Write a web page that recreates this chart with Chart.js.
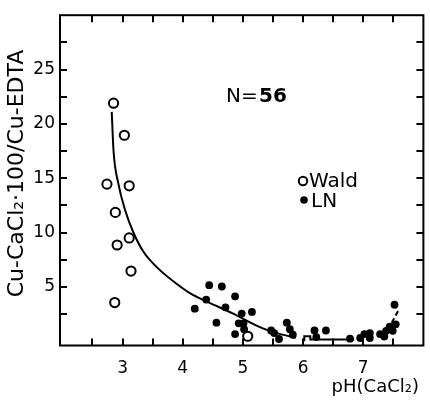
<!DOCTYPE html>
<html>
<head>
<meta charset="utf-8">
<script src="https://cdn.jsdelivr.net/npm/chart.js@4.4.1/dist/chart.umd.min.js"></script>
<style>
  html, body { margin: 0; padding: 0; background: #fff; }
  #wrap { width: 430px; height: 403px; position: relative; }
</style>
</head>
<body>
<div id="wrap"><canvas id="c" width="430" height="403"></canvas></div>
<script>
// ---- data ----
const waldX = [2.85, 3.03, 2.74, 3.11, 2.88, 2.91, 3.11, 3.14, 2.87, 5.08];
const waldY = [21.9, 18.95, 14.45, 14.3, 11.85, 8.85, 9.5, 6.45, 3.55, 0.45];

const lnX = [4.20, 4.39, 4.44, 4.65, 4.71, 4.56, 4.87, 4.98, 5.15, 4.93, 5.01, 4.87, 5.02,
             5.47, 5.52, 5.60, 5.73, 5.78, 5.83, 6.19, 6.22, 6.38,
             6.78, 6.95, 7.02, 7.11, 7.11, 7.28, 7.35, 7.38, 7.44, 7.49, 7.54, 7.52];
const lnY = [2.99, 3.83, 5.15, 5.03, 3.11, 1.70, 4.13, 2.54, 2.69, 1.64, 1.64, 0.65, 1.10,
             0.98, 0.74, 0.20, 1.70, 1.10, 0.59, 0.98, 0.38, 0.98,
             0.23, 0.29, 0.65, 0.74, 0.29, 0.65, 0.43, 0.95, 1.33, 0.95, 1.55, 3.35];

const fitX = [2.82, 2.85, 2.93, 3.04, 3.18, 3.35, 3.59, 3.87, 4.14, 4.42, 4.83, 5.32, 5.57, 5.88];
const fitY = [21.1, 17.5, 14.5, 12.1, 10.0, 8.2, 6.7, 5.4, 4.35, 3.6, 2.55, 1.2, 0.74, 0.30];

const flatX = [6.02, 6.02, 6.12, 6.12, 6.85];
const flatY = [0.0, 0.45, 0.45, 0.15, 0.15];

const riseX = [7.30, 7.45, 7.60];
const riseY = [0.60, 1.50, 3.00];

const xTicks = [3, 4, 5, 6, 7];
const yTicks = [5, 10, 15, 20, 25];

const yTitle = 'Cu-CaCl\u2082\u00b7100/Cu-EDTA';
const xTitle = 'pH(CaCl\u2082)';
const noteText = ['N= ', '56'];

const FONT = "'DejaVu Sans', 'Liberation Sans', sans-serif";

const pts = (xs, ys) => xs.map((x, i) => ({ x: x, y: ys[i] }));

// frame, inward ticks, axis titles, annotation text, legend
const decor = {
  id: 'decor',
  afterDatasetsDraw(chart) {
    const { ctx, chartArea: a, scales: { x, y } } = chart;
    ctx.save();
    ctx.strokeStyle = '#000';
    ctx.lineWidth = 2;
    ctx.strokeRect(a.left, a.top, a.right - a.left, a.bottom - a.top);
    const L = 7;
    ctx.beginPath();
    for (let v = 2.5; v <= 7.51; v += 0.5) {
      const px = Math.round(x.getPixelForValue(v));
      ctx.moveTo(px, a.bottom); ctx.lineTo(px, a.bottom - L);
      ctx.moveTo(px, a.top); ctx.lineTo(px, a.top + L);
    }
    for (let v = 2.5; v <= 27.51; v += 2.5) {
      const py = Math.round(y.getPixelForValue(v));
      ctx.moveTo(a.left, py); ctx.lineTo(a.left + L, py);
      ctx.moveTo(a.right, py); ctx.lineTo(a.right - L, py);
    }
    ctx.stroke();

    ctx.fillStyle = '#000';

    // y title
    ctx.save();
    ctx.translate(17, 173.5);
    ctx.rotate(-Math.PI / 2);
    ctx.font = '22px ' + FONT;
    ctx.textAlign = 'center';
    ctx.textBaseline = 'middle';
    ctx.fillText(yTitle, 0, 0);
    ctx.restore();

    // N = 56
    ctx.textBaseline = 'alphabetic';
    ctx.textAlign = 'left';
    ctx.font = '20px ' + FONT;
    ctx.fillText(noteText[0], 226, 102);
    ctx.font = 'bold 20px ' + FONT;
    ctx.fillText(noteText[1], 259, 102);

    // legend
    const ds = chart.data.datasets;
    ctx.font = '20px ' + FONT;
    ctx.lineWidth = 2;
    ctx.beginPath();
    ctx.arc(303, 181, 4.2, 0, Math.PI * 2);
    ctx.stroke();
    ctx.fillText(ds[0].label, 309, 187);
    ctx.beginPath();
    ctx.arc(304, 200, 3.8, 0, Math.PI * 2);
    ctx.fill();
    ctx.fillText(ds[1].label, 311, 207);

    // x title
    ctx.font = '18px ' + FONT;
    ctx.textAlign = 'right';
    ctx.fillText(xTitle, 419, 392);
    ctx.restore();
  }
};

new Chart(document.getElementById('c'), {
  type: 'scatter',
  data: {
    datasets: [
      { label: 'Wald', data: pts(waldX, waldY), pointStyle: 'circle', pointRadius: 4.6,
        borderColor: '#000', backgroundColor: '#fff', borderWidth: 2, pointBorderWidth: 2, order: 1 },
      { label: 'LN', data: pts(lnX, lnY), pointStyle: 'circle', pointRadius: 3.9,
        borderColor: '#000', backgroundColor: '#000', borderWidth: 0, pointBorderWidth: 0, order: 2 },
      { label: 'fit', data: pts(fitX, fitY), showLine: true, pointRadius: 0, borderColor: '#000',
        borderWidth: 2, cubicInterpolationMode: 'monotone', order: 3 },
      { label: 'fit2', data: pts(flatX, flatY), showLine: true, pointRadius: 0, borderColor: '#000',
        borderWidth: 2, tension: 0, order: 3 },
      { label: 'fit3', data: pts(riseX, riseY), showLine: true, pointRadius: 0, borderColor: '#000',
        borderWidth: 2, borderDash: [5, 3], tension: 0.3, order: 3 }
    ]
  },
  options: {
    responsive: false,
    animation: false,
    devicePixelRatio: 1,
    layout: { padding: { top: 7, right: 3, left: 0, bottom: 0 } },
    plugins: { legend: { display: false }, tooltip: { enabled: false } },
    scales: {
      x: {
        type: 'linear', min: 1.96, max: 8.0,
        afterFit(s) { s.height = 57.5; },
        afterBuildTicks(s) { s.ticks = xTicks.map(v => ({ value: v })); },
        grid: { display: false, drawTicks: false },
        border: { display: false },
        ticks: { color: '#000', padding: 13, font: { family: FONT, size: 17 }, maxRotation: 0, autoSkip: false },
        title: { display: false }
      },
      y: {
        type: 'linear', min: -0.4, max: 30,
        afterFit(s) { s.width = 60; },
        afterBuildTicks(s) { s.ticks = yTicks.map(v => ({ value: v })); },
        grid: { display: false, drawTicks: false },
        border: { display: false },
        ticks: { color: '#000', padding: 5, font: { family: FONT, size: 17 }, autoSkip: false },
        title: { display: false }
      }
    }
  },
  plugins: [decor]
});
</script>
</body>
</html>
